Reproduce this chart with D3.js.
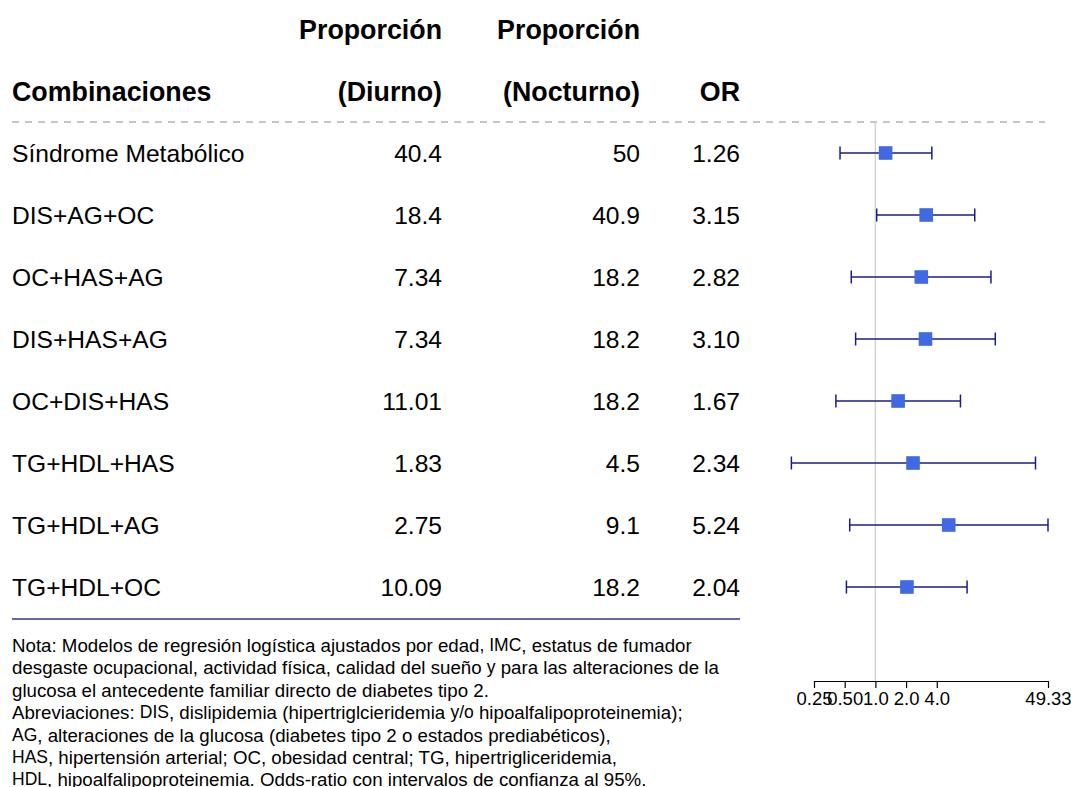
<!DOCTYPE html>
<html>
<head>
<meta charset="utf-8">
<script src="https://cdn.jsdelivr.net/npm/d3@7"></script>
<style>
  body { margin: 0; background: #fff; }
  text { font-family: "Liberation Sans", Arial, Helvetica, sans-serif; fill: #000; }
</style>
</head>
<body>
<div id="chart"></div>
<script>
// data
var combinaciones = ['Síndrome Metabólico', 'DIS+AG+OC', 'OC+HAS+AG', 'DIS+HAS+AG',
  'OC+DIS+HAS', 'TG+HDL+HAS', 'TG+HDL+AG', 'TG+HDL+OC'];
var propDiurno = ['40.4', '18.4', '7.34', '7.34', '11.01', '1.83', '2.75', '10.09'];
var propNocturno = ['50', '40.9', '18.2', '18.2', '18.2', '4.5', '9.1', '18.2'];
var orLabels = ['1.26', '3.15', '2.82', '3.10', '1.67', '2.34', '5.24', '2.04'];
var orMean = [1.26, 3.15, 2.82, 3.10, 1.67, 2.34, 5.24, 2.04];
var ciLower = [0.45, 1.03, 0.58, 0.64, 0.41, 0.15, 0.56, 0.52];
var ciUpper = [3.58, 9.43, 13.6, 15.0, 6.83, 37.2, 49.33, 7.93];
var tickValues = [0.25, 0.5, 1, 2, 4, 49.33];
var tickLabels = ['0.25', '0.50', '1.0', '2.0', '4.0', '49.33'];

var notaLines = [
  'Nota: Modelos de regresión logística ajustados por edad{, IMC}, estatus de fumador',
  'desgaste ocupacional, actividad física, calidad del sueño {y} para las alteraciones de la',
  'glucosa el antecedente familiar directo de diabetes tipo 2.',
  'Abreviaciones: {DIS}, dislipidemia (hipertriglcieridemia {y/o} hipoalfalipoproteinemia);',
  '{AG}, alteraciones de la glucosa (diabetes tipo 2 o estados prediabéticos),',
  '{HAS}, hipertensión arterial; OC, obesidad central; TG, hipertrigliceridemia,',
  '{HDL}, hipoalfalipoproteinemia. Odds-ratio con intervalos de confianza al 95%.'
];

var width = 1071;
var height = 787;

var svg = d3.select('#chart')
  .append('svg')
  .attr('width', width)
  .attr('height', height);

svg.append('rect')
  .attr('width', width)
  .attr('height', height)
  .attr('fill', '#fff');

// scales
var y_scale = d3.scalePoint()
  .domain(combinaciones)
  .range([153, 587]);

var x_scale = d3.scaleLog()
  .domain([0.25, 49.33])
  .range([814, 1048]);

// column positions
var colLabel = 12;
var colDiurno = 442;
var colNocturno = 640;
var colOR = 740;

// header
var header = svg.append('g')
  .attr('font-weight', 'bold')
  .attr('font-size', 26.8);

header.append('text').attr('x', colDiurno).attr('y', 30).attr('text-anchor', 'end')
  .attr('dominant-baseline', 'central').text('Proporción');
header.append('text').attr('x', colNocturno).attr('y', 30).attr('text-anchor', 'end')
  .attr('dominant-baseline', 'central').text('Proporción');
header.append('text').attr('x', colLabel).attr('y', 92)
  .attr('dominant-baseline', 'central').text('Combinaciones');
header.append('text').attr('x', colDiurno).attr('y', 92).attr('text-anchor', 'end')
  .attr('dominant-baseline', 'central').text('(Diurno)');
header.append('text').attr('x', colNocturno).attr('y', 92).attr('text-anchor', 'end')
  .attr('dominant-baseline', 'central').text('(Nocturno)');
header.append('text').attr('x', colOR).attr('y', 92).attr('text-anchor', 'end')
  .attr('dominant-baseline', 'central').text('OR');

// dashed separator
svg.append('line')
  .attr('x1', 12).attr('x2', 1045)
  .attr('y1', 122).attr('y2', 122)
  .attr('stroke', '#8c8c8c')
  .attr('stroke-width', 1)
  .attr('stroke-dasharray', '7,6');

// table rows
var rows = svg.append('g')
  .attr('font-size', 24.6)
  .selectAll('g')
  .data(combinaciones)
  .enter()
  .append('g')
  .attr('transform', (d) => 'translate(0,' + y_scale(d) + ')');

rows.append('text')
  .attr('x', colLabel)
  .attr('dominant-baseline', 'central')
  .text((d) => d);
rows.append('text')
  .attr('x', colDiurno)
  .attr('text-anchor', 'end')
  .attr('dominant-baseline', 'central')
  .text((d, i) => propDiurno[i]);
rows.append('text')
  .attr('x', colNocturno)
  .attr('text-anchor', 'end')
  .attr('dominant-baseline', 'central')
  .text((d, i) => propNocturno[i]);
rows.append('text')
  .attr('x', colOR)
  .attr('text-anchor', 'end')
  .attr('dominant-baseline', 'central')
  .text((d, i) => orLabels[i]);

// bottom rule
svg.append('line')
  .attr('x1', 12).attr('x2', 740)
  .attr('y1', 619).attr('y2', 619)
  .attr('stroke', '#33338a')
  .attr('stroke-width', 1.5);

// reference line at OR = 1
var axisY = 681;
svg.append('line')
  .attr('x1', x_scale(1)).attr('x2', x_scale(1))
  .attr('y1', 122).attr('y2', axisY)
  .attr('stroke', '#d3d3d3')
  .attr('stroke-width', 1.5);

// confidence intervals
var forest = svg.append('g')
  .selectAll('g')
  .data(combinaciones)
  .enter()
  .append('g')
  .attr('transform', (d) => 'translate(0,' + y_scale(d) + ')');

forest.append('line')
  .attr('x1', (d, i) => x_scale(ciLower[i]))
  .attr('x2', (d, i) => x_scale(ciUpper[i]))
  .attr('stroke', '#1c1c88')
  .attr('stroke-width', 1.3);
forest.append('line')
  .attr('x1', (d, i) => x_scale(ciLower[i]))
  .attr('x2', (d, i) => x_scale(ciLower[i]))
  .attr('y1', -6.5).attr('y2', 6.5)
  .attr('stroke', '#1c1c88')
  .attr('stroke-width', 1.5);
forest.append('line')
  .attr('x1', (d, i) => x_scale(ciUpper[i]))
  .attr('x2', (d, i) => x_scale(ciUpper[i]))
  .attr('y1', -6.5).attr('y2', 6.5)
  .attr('stroke', '#1c1c88')
  .attr('stroke-width', 1.5);
forest.append('rect')
  .attr('x', (d, i) => x_scale(orMean[i]) - 6.8)
  .attr('y', -6.8)
  .attr('width', 13.6)
  .attr('height', 13.6)
  .attr('fill', '#4169e1');

// axis
var x_axis = d3.axisBottom(x_scale)
  .tickValues(tickValues)
  .tickFormat((d, i) => tickLabels[i])
  .tickSize(7)
  .tickSizeOuter(0)
  .tickPadding(4);

var axisG = svg.append('g')
  .attr('transform', 'translate(0,' + axisY + ')')
  .call(x_axis);
axisG.select('.domain').attr('stroke', '#000').attr('stroke-width', 1.2);
axisG.selectAll('.tick line').attr('stroke', '#000').attr('stroke-width', 1.2);
axisG.selectAll('.tick text')
  .attr('font-family', '"Liberation Sans", Arial, sans-serif')
  .attr('font-size', 18.5)
  .attr('fill', '#000');

// footnote
var nota = svg.append('g')
  .attr('font-size', 18.7);

notaLines.forEach(function(line, i) {
  var t = nota.append('text')
    .attr('x', 12)
    .attr('y', 645 + i * 22.4)
    .attr('dominant-baseline', 'central')
    .style('font-family', '"Liberation Sans Narrow", "Liberation Sans", sans-serif');
  line.split(/(\{[^}]*\})/).forEach(function(part) {
    if (!part) return;
    if (part[0] === '{') {
      t.append('tspan')
        .style('font-family', '"Liberation Sans", Arial, sans-serif')
        .attr('font-size', 17.5)
        .text(part.slice(1, -1));
    } else {
      t.append('tspan').text(part);
    }
  });
});
</script>
</body>
</html>
